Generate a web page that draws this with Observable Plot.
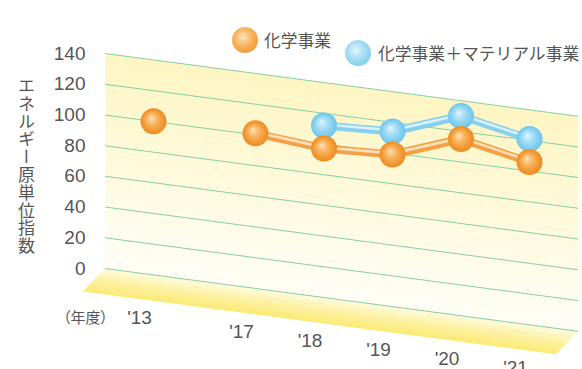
<!DOCTYPE html>
<html>
<head>
<meta charset="utf-8">
<script src="https://cdn.jsdelivr.net/npm/d3@7"></script>
<script src="https://cdn.jsdelivr.net/npm/@observablehq/plot@0.6"></script>
<style>
  body { margin: 0; background: #fff; }
  #wrap { position: relative; width: 582px; height: 369px; overflow: hidden;
          font-family: "Noto Sans CJK JP", "Noto Sans", sans-serif; color: #555; }
  #chart { position: absolute; left: 0; top: 0; }
  .ball { position: absolute; width: 26px; height: 26px; border-radius: 50%; }
  .ball.orange { background: radial-gradient(circle at 42% 40%, #fde4c0 0%, #f8b968 35%, #f39b36 72%, #ee8a20 100%); }
  .ball.blue { background: radial-gradient(circle at 42% 40%, #e2f5fd 0%, #ace0f6 35%, #84cff0 72%, #6cc5ee 100%); }
  .legtext { position: absolute; font-size: 16.8px; line-height: 1; white-space: nowrap; color: #555; }
  #ytitle { position: absolute; left: 18px; top: 77px; writing-mode: vertical-rl; font-size: 17px;
            line-height: 1; letter-spacing: 0.8px; color: #555; white-space: nowrap; }
  #unit { position: absolute; left: 63px; top: 309px; font-size: 15px; line-height: 1;
          font-feature-settings: "palt"; color: #555; white-space: nowrap; }
</style>
</head>
<body>
<div id="wrap">
  <div id="chart"></div>
  <div class="ball orange" style="left:232px;top:27px"></div>
  <div class="legtext" id="leg0" style="left:264px;top:32px"></div>
  <div class="ball blue" style="left:345px;top:40px"></div>
  <div class="legtext" id="leg1" style="left:378px;top:45px"></div>
  <div id="ytitle"></div>
  <div id="unit"></div>
</div>
<script>
// ---- data ----
const years = [2013, 2017, 2018, 2019, 2020, 2021];
const yearLabels = ["'13", "'17", "'18", "'19", "'20", "'21"];
const chemical = [100, 101, 97, 99, 115, 106];            // 化学事業
const blendYears = [2018, 2019, 2020, 2021];
const chemMaterial = [112, 114, 130, 121];                // 化学事業＋マテリアル事業
const yTicks = [0, 20, 40, 60, 80, 100, 120, 140];
const seriesNames = ["化学事業", "化学事業＋マテリアル事業"];
const yTitle = "エネルギー原単位指数";
const unitLabel = "（年度）";

document.getElementById("leg0").textContent = seriesNames[0];
document.getElementById("leg1").textContent = seriesNames[1];
document.getElementById("ytitle").textContent = yTitle;
document.getElementById("unit").textContent = unitLabel;

const chemData = years.map((year, i) => ({year, value: chemical[i]}));
const matData = blendYears.map((year, i) => ({year, value: chemMaterial[i]}));
const labelData = years.map((year, i) => ({year, label: yearLabels[i]}));

const K = 0.1325;          // slant of the back wall
const ML = 105, MR = 4, MT = 53, MB = 101, W = 582, H = 369;

const chart = Plot.plot({
  width: W, height: H,
  marginLeft: ML, marginRight: MR, marginTop: MT, marginBottom: MB,
  style: {background: "transparent", fontFamily: "'Liberation Sans', Arial, sans-serif", color: "#555", overflow: "visible"},
  x: {type: "linear", domain: [2013, 2017, 2021], range: [153, 255, 529], axis: null},
  y: {domain: [0, 140], axis: null},
  marks: [
    Plot.frame({fill: "#fdf8d4", stroke: "none"}),
    Plot.ruleY(yTicks, {stroke: "#86cfa4", strokeWidth: 1}),
    Plot.text(yTicks, {y: d => d, text: d => String(d), frameAnchor: "left", dx: -20, textAnchor: "end", lineAnchor: "middle", fontSize: 19, fill: "#555"}),
    Plot.text(labelData, {x: "year", text: "label", frameAnchor: "bottom", lineAnchor: "middle", dy: 45, dx: -14, fontSize: 19, fill: "#555"}),
    Plot.line(matData, {x: "year", y: "value", stroke: "#86cff0", strokeWidth: 8, strokeLinecap: "round", strokeLinejoin: "round"}),
    Plot.line(matData, {x: "year", y: "value", stroke: "#d8f2fc", strokeWidth: 2.6, dy: -1.2, strokeLinecap: "round", strokeLinejoin: "round"}),
    Plot.dot(matData, {x: "year", y: "value", r: 13, fill: "#84cff0"}),
    Plot.line(chemData, {filter: d => d.year >= 2017, x: "year", y: "value", stroke: "#f4a044", strokeWidth: 8, strokeLinecap: "round", strokeLinejoin: "round"}),
    Plot.line(chemData, {filter: d => d.year >= 2017, x: "year", y: "value", stroke: "#fde0b8", strokeWidth: 2.6, dy: -1.2, strokeLinecap: "round", strokeLinejoin: "round"}),
    Plot.dot(chemData, {x: "year", y: "value", r: 13, fill: "#f39b36"})
  ]
});
document.getElementById("chart").appendChild(chart);

// ---- gradients ----
const svg = d3.select(chart);
const markEls = Array.from(chart.children).filter(el => !["style", "defs", "title", "desc"].includes(el.tagName.toLowerCase()));
const defs = svg.insert("defs", ":first-child");
function radial(id, stops) {
  const g = defs.append("radialGradient").attr("id", id).attr("cx", "50%").attr("cy", "50%").attr("r", "50%").attr("fx", "40%").attr("fy", "36%");
  stops.forEach(([o, c]) => g.append("stop").attr("offset", o).attr("stop-color", c));
}
function linear(id, stops) {
  const g = defs.append("linearGradient").attr("id", id).attr("x1", 0).attr("y1", 0).attr("x2", 0).attr("y2", 1);
  stops.forEach(([o, c]) => g.append("stop").attr("offset", o).attr("stop-color", c));
}
radial("ballOrange", [[0, "#fde4c0"], [0.35, "#f8ba6a"], [0.72, "#f39c38"], [1, "#ee8a20"]]);
radial("ballBlue", [[0, "#e4f6fd"], [0.35, "#ade1f6"], [0.72, "#86d0f0"], [1, "#6cc5ee"]]);
linear("wallGrad", [[0, "#fdf5c2"], [1, "#fffef6"]]);
linear("floorGrad", [[0, "#fffbe2"], [0.45, "#fdf2a8"], [1, "#fbea74"]]);

const [gWall, gGrid, gYTicks, gYears, gBlueLine, gBlueHi, gBlueDots, gOrLine, gOrHi, gOrDots] = markEls;

function setFill(el, f) {
  el.setAttribute("fill", f);
  el.querySelectorAll("rect,circle,path").forEach(c => c.setAttribute("fill", f));
}
setFill(gWall, "url(#wallGrad)");
setFill(gBlueDots, "url(#ballBlue)");
setFill(gOrDots, "url(#ballOrange)");

// floor below the zero line
const y0 = chart.scale("y").apply(0);
const depthX = -22, depthY = 26.5;
const xL = ML, xR = W - MR;
const floor = document.createElementNS("http://www.w3.org/2000/svg", "g");
const poly = document.createElementNS("http://www.w3.org/2000/svg", "path");
poly.setAttribute("d", `M${xL},${y0}L${xR},${y0}L${xR + depthX},${y0 + depthY}L${xL + depthX},${y0 + depthY}Z`);
poly.setAttribute("fill", "url(#floorGrad)");
floor.appendChild(poly);
gWall.after(floor);

// slant whole groups
const slant = `matrix(1,${K},0,1,0,${-K * ML}) `;
[gWall, floor, gGrid, gBlueLine, gBlueHi, gOrLine, gOrHi].forEach(g => {
  g.setAttribute("transform", slant + (g.getAttribute("transform") || ""));
});
// slant positions only (keep shapes upright)
const svgLeft = chart.getBoundingClientRect().left;
[gYears, gBlueDots, gOrDots].forEach(g => {
  Array.from(g.children).forEach(el => {
    const b = el.getBoundingClientRect();
    const cx = b.left + b.width / 2 - svgLeft;
    const off = K * (cx - ML);
    el.setAttribute("transform", `translate(0,${off}) ` + (el.getAttribute("transform") || ""));
  });
});
</script>
</body>
</html>
